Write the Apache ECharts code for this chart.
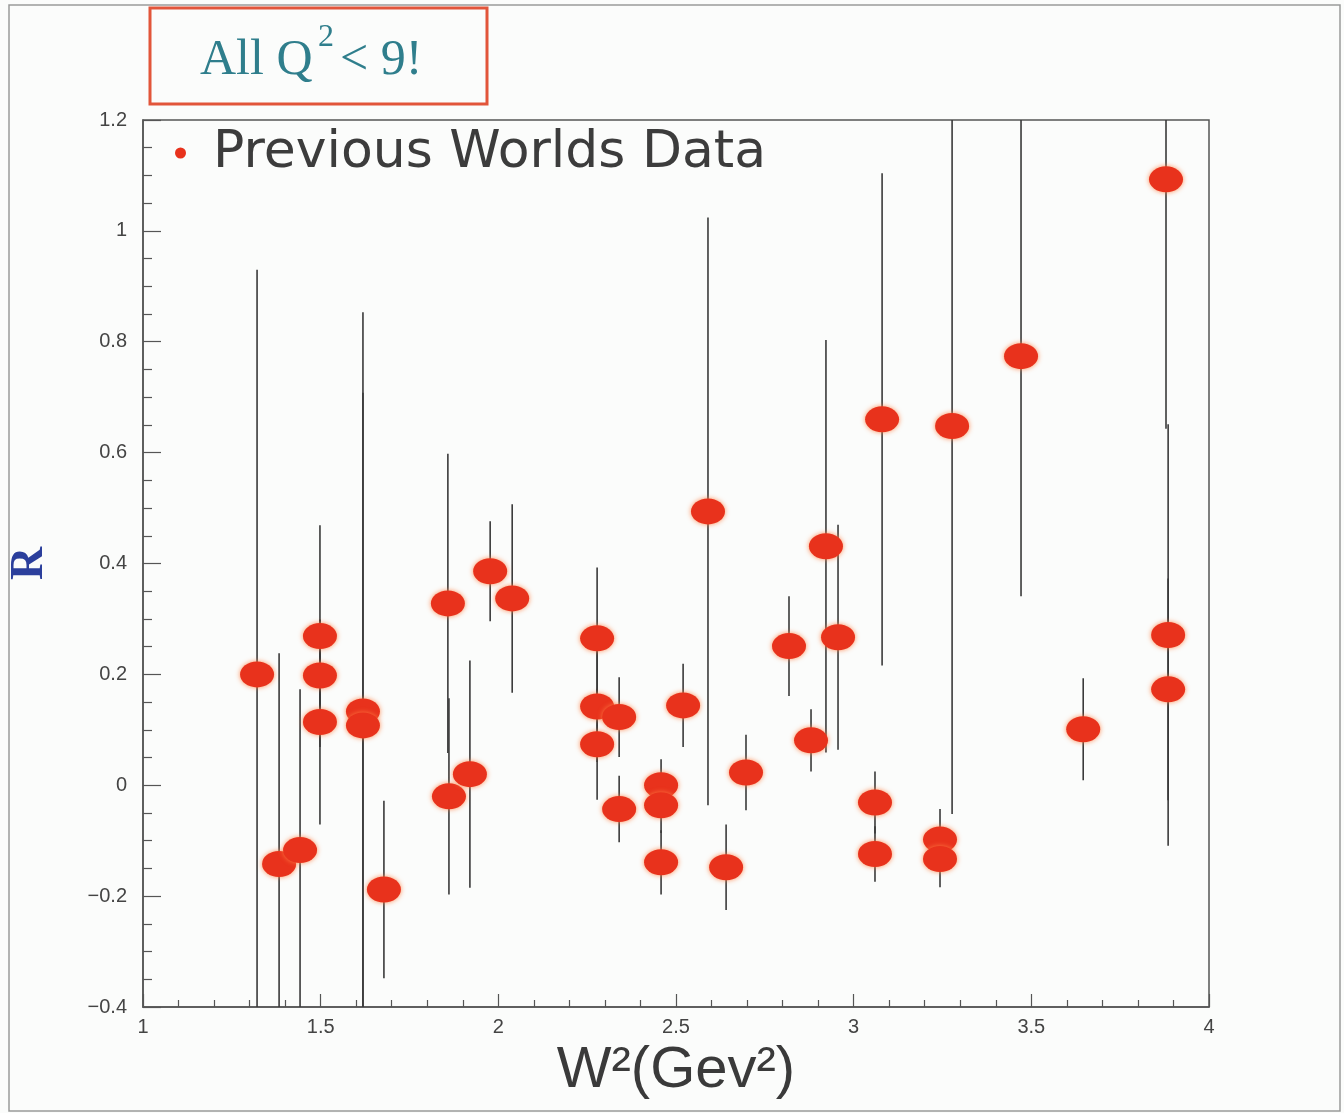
<!DOCTYPE html>
<html>
<head>
<meta charset="utf-8">
<script src="https://cdn.jsdelivr.net/npm/echarts@6/dist/echarts.min.js"></script>
<style>
html,body{margin:0;padding:0;background:#fbfcfb;}
#chart{width:1344px;height:1113px;}
</style>
</head>
<body>
<div id="chart"></div>
<script>
// W^2 (GeV^2) positions of the measurements
const wSquared = [1.321, 1.383, 1.442, 1.498, 1.498, 1.498, 1.619, 1.619, 1.678, 1.858,
                  1.861, 1.920, 1.977, 2.039, 2.278, 2.278, 2.278, 2.340, 2.340, 2.458,
                  2.458, 2.458, 2.520, 2.590, 2.641, 2.697, 2.818, 2.880, 2.922, 2.956,
                  3.080, 3.060, 3.060, 3.277, 3.243, 3.243, 3.471, 3.646, 3.879, 3.885,
                  3.885];
// R values
const rValues  = [0.200, -0.142, -0.117, 0.269, 0.198, 0.114, 0.133, 0.108, -0.188, 0.328,
                  -0.020, 0.020, 0.386, 0.337, 0.265, 0.142, 0.074, 0.123, -0.043, 0.000,
                  -0.036, -0.139, 0.144, 0.494, -0.148, 0.023, 0.251, 0.081, 0.431, 0.267,
                  0.660, -0.031, -0.124, 0.648, -0.098, -0.133, 0.774, 0.101, 1.093, 0.271,
                  0.173];
// symmetric errors on R
const rErrors  = [0.73, 0.38, 0.29, 0.20, 0.10, 0.185, 0.72, 0.60, 0.16, 0.27,
                  0.177, 0.205, 0.09, 0.17, 0.128, 0.10, 0.10, 0.072, 0.06, 0.047,
                  0.05, 0.058, 0.075, 0.53, 0.077, 0.068, 0.09, 0.056, 0.372, 0.203,
                  0.444, 0.056, 0.05, 0.70, 0.055, 0.051, 0.433, 0.092, 0.45, 0.38,
                  0.20];
const yTicks = [-0.4, -0.2, 0, 0.2, 0.4, 0.6, 0.8, 1, 1.2];
const xTicks = [1, 1.5, 2, 2.5, 3, 3.5, 4];

const pointData = wSquared.map((x, i) => [x, rValues[i]]);
const errData = wSquared.map((x, i) => [x, rValues[i] - rErrors[i], rValues[i] + rErrors[i]]);

const chart = echarts.init(document.getElementById('chart'), null, {renderer: 'canvas'});
const fmt = v => (v < 0 ? '\u2212' + Math.abs(v) : String(v));

chart.setOption({
  backgroundColor: '#fbfcfb',
  animation: false,
  grid: {left: 143, right: 135, top: 120, bottom: 106, show: true,
         outerBoundsMode: 'none', containLabel: false,
         borderColor: '#555', borderWidth: 1.5, backgroundColor: 'transparent'},
  legend: {
    data: ['Previous Worlds Data'],
    left: 170, top: 122,
    icon: 'circle', itemWidth: 11, itemHeight: 11,
    textStyle: {fontFamily: 'DejaVu Sans', fontSize: 52, color: '#3c3c3c', padding: [0, 0, 0, 22]}
  },
  xAxis: {
    type: 'value', min: 1, max: 4, interval: 0.5,
    name: 'W\u00B2(Gev\u00B2)', nameLocation: 'middle', nameGap: 30,
    nameTextStyle: {fontFamily: 'Liberation Sans', fontSize: 58, color: '#3a3a3a'},
    axisLine: {show: true, onZero: false, lineStyle: {color: '#555', width: 1.5}},
    axisTick: {show: true, inside: true, length: 13, lineStyle: {color: '#555', width: 1.2}},
    minorTick: {show: true, splitNumber: 5, length: 7, lineStyle: {color: '#555', width: 1.2}},
    splitLine: {show: false},
    axisLabel: {margin: 10, fontFamily: 'Liberation Sans', fontSize: 20, color: '#444',
                formatter: v => (xTicks.indexOf(v) >= 0 ? fmt(v) : '')}
  },
  yAxis: {
    type: 'value', min: -0.4, max: 1.2, interval: 0.2,
    name: 'R', nameLocation: 'middle', nameGap: 90, nameRotate: 90,
    nameTextStyle: {fontFamily: 'Liberation Serif', fontWeight: 'bold', fontSize: 46, color: '#2b3f9c'},
    axisLine: {show: true, onZero: false, lineStyle: {color: '#555', width: 1.5}},
    axisTick: {show: true, inside: true, length: 18, lineStyle: {color: '#555', width: 1.2}},
    minorTick: {show: true, splitNumber: 4, length: 9, lineStyle: {color: '#555', width: 1.2}},
    splitLine: {show: false},
    axisLabel: {margin: 16, fontFamily: 'Liberation Sans', fontSize: 20, color: '#444',
                formatter: v => {
                  const r = Math.round(v * 10) / 10;
                  return yTicks.indexOf(r) >= 0 ? fmt(r) : '';
                }}
  },
  series: [
    {
      type: 'custom',
      name: 'errors',
      clip: true,
      z: 1,
      silent: true,
      data: errData,
      renderItem: function (params, api) {
        const p1 = api.coord([api.value(0), api.value(1)]);
        const p2 = api.coord([api.value(0), api.value(2)]);
        return {
          type: 'line',
          shape: {x1: p1[0], y1: p1[1], x2: p2[0], y2: p2[1]},
          style: {stroke: '#3a3a3a', lineWidth: 1.6}
        };
      }
    },
    {
      type: 'scatter',
      name: 'Previous Worlds Data',
      z: 3,
      symbol: 'circle',
      symbolSize: [34, 26],
      data: pointData,
      itemStyle: {color: '#e8321c', shadowBlur: 5, shadowColor: 'rgba(255,130,70,0.9)', opacity: 1}
    }
  ],
  graphic: [
    {type: 'rect', shape: {x: 9, y: 5, width: 1331, height: 1106},
     style: {fill: 'none', stroke: '#9a9a9a', lineWidth: 1.5}, silent: true, z: -1},
    {type: 'rect', shape: {x: 150, y: 8, width: 337, height: 96},
     style: {fill: '#fbfcfb', stroke: '#e2553a', lineWidth: 3}, z: 10},
    {type: 'text', x: 200, y: 86, z: 11,
     style: {text: 'All Q', fontFamily: 'Liberation Serif', fontSize: 50, fill: '#2f7e8c',
             verticalAlign: 'bottom'}},
    {type: 'text', x: 318, y: 54, z: 11,
     style: {text: '2', fontFamily: 'Liberation Serif', fontSize: 32, fill: '#2f7e8c',
             verticalAlign: 'bottom'}},
    {type: 'text', x: 340, y: 86, z: 11,
     style: {text: '< 9!', fontFamily: 'Liberation Serif', fontSize: 50, fill: '#2f7e8c',
             verticalAlign: 'bottom'}}
  ]
});
</script>
</body>
</html>
